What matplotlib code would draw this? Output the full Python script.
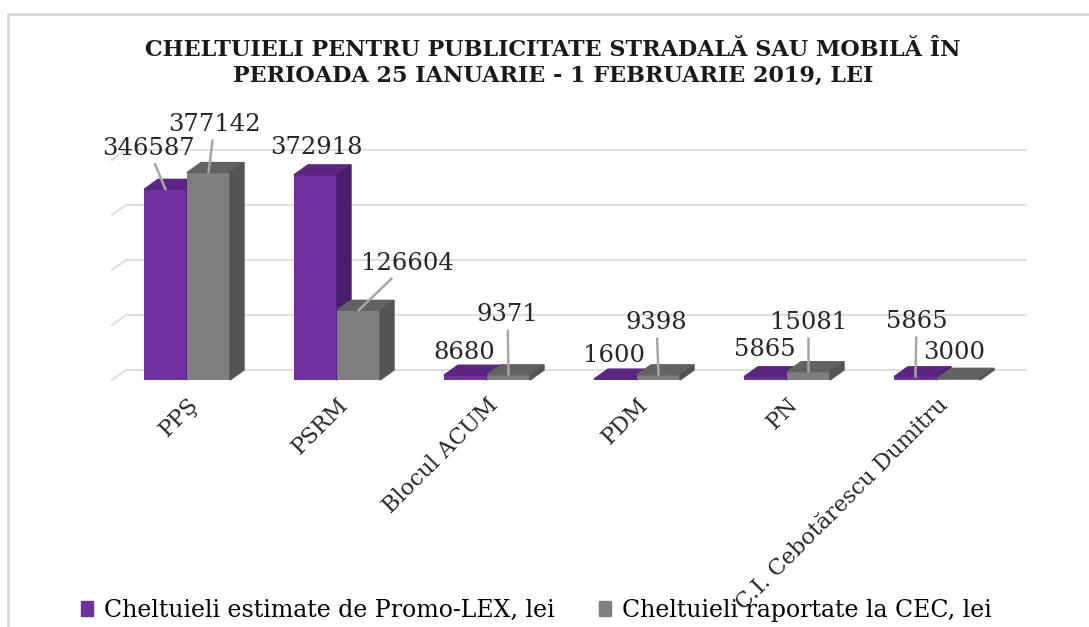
"""Cheltuieli publicitate stradala / mobila, 25 ian - 1 feb 2019 (pseudo-3D clustered bars)."""

import matplotlib
matplotlib.use("Agg")
import matplotlib.pyplot as plt
from matplotlib.patches import Polygon, Rectangle

categories = ["PPŞ", "PSRM", "Blocul ACUM", "PDM", "PN", "C.I. Cebotărescu Dumitru"]
estimate_lei = [346587, 372918, 8680, 1600, 5865, 5865]     # Promo-LEX estimate
reported_lei = [377142, 126604, 9371, 9398, 15081, 3000]    # reported to CEC
series_names = ["Cheltuieli estimate de Promo-LEX, lei", "Cheltuieli raportate la CEC, lei"]
grid_levels = [0, 100000, 200000, 300000, 400000]

# label placement (offset pixels from front-top centre of the bar) + leader line on/off
est_offsets = [(-17, 41), (1, 27), (-1, 23), (-2, 24), (-1, 27), (1, 55)]
est_leader = [True, False, False, False, False, True]
rep_offsets = [(6, 48), (49, 47), (-1, 60), (-2, 52), (0, 49), (-4, 26)]
rep_leader = [True, True, True, True, True, False]

W, H = 1089, 627
SERIF = "DejaVu Serif"
fig = plt.figure(figsize=(W / 100, H / 100), dpi=100)

# light frame (chart box cut by the screenshot)
fig.patches.append(Rectangle((8 / W, -0.1), 1.2, 1 - 14 / H + 0.1, transform=fig.transFigure,
                             fill=False, ec="#d9d9d9", lw=2))

ax_px = (112, 380, 900, 231)  # left, bottom(from top), width, height
ax = fig.add_axes([ax_px[0] / W, (H - ax_px[1]) / H, ax_px[2] / W, ax_px[3] / H])
ax.set_xlim(-0.5, len(categories) - 0.5)
ax.set_ylim(0, 420000)
for s in ax.spines.values():
    s.set_visible(False)
ax.set_yticks([])

# depth of the 3D effect, pixels -> data units
xspan = len(categories)
DX = 14 * xspan / ax_px[2]
DY = 10 * 420000 / ax_px[3]

# back wall gridlines + left stubs
for g in grid_levels:
    ax.plot([-0.5 + DX, len(categories) - 0.5 + DX], [g + DY, g + DY], color="#dedede", lw=1.5,
            zorder=0, clip_on=False)
    ax.plot([-0.5, -0.5 + DX], [g, g + DY], color="#dedede", lw=1.5, zorder=0, clip_on=False)

bw = 43 * xspan / ax_px[2]
colors = [("#7030a0", "#5a2682", "#4a1d6b"), ("#7f7f7f", "#626262", "#545454")]


def bar3d(x0, v, cols, z):
    front, top, side = cols
    ax.bar(x0, v, width=bw, align="edge", color=front, zorder=z, clip_on=False)
    ax.add_patch(Polygon([(x0, v), (x0 + bw, v), (x0 + bw + DX, v + DY), (x0 + DX, v + DY)],
                         closed=True, color=top, zorder=z, clip_on=False))
    ax.add_patch(Polygon([(x0 + bw, 0), (x0 + bw + DX, DY), (x0 + bw + DX, v + DY), (x0 + bw, v)],
                         closed=True, color=side, zorder=z, clip_on=False))
    return (x0 + bw / 2, v)


for i in range(len(categories)):
    series = [(estimate_lei, est_offsets, est_leader), (reported_lei, rep_offsets, rep_leader)]
    for k, (vals, offs, lead) in enumerate(series):
        x0 = i - bw if k == 0 else i
        anchor = bar3d(x0, vals[i], colors[k], 2 + k)
        arrow = dict(arrowstyle="-", color="#a6a6a6", lw=1.8, shrinkA=1, shrinkB=0) if lead[i] else None
        ax.annotate(f"{vals[i]}", xy=anchor, xytext=offs[i], textcoords="offset pixels",
                    ha="center", va="center", fontsize=17.5, family=SERIF, color="#262626",
                    arrowprops=arrow, zorder=5)

ax.set_xticks(range(len(categories)))
ax.set_xticklabels(categories, rotation=45, ha="right", rotation_mode="anchor",
                   fontsize=16, family=SERIF, color="#262626")
ax.tick_params(axis="x", length=0, pad=10)

fig.text(553 / W, 1 - 50 / H, "CHELTUIELI PENTRU PUBLICITATE STRADALĂ SAU MOBILĂ ÎN",
         ha="center", va="center", fontsize=16, fontweight="bold", family=SERIF, color="#1a1a1a")
fig.text(553 / W, 1 - 76 / H, "PERIOADA 25 IANUARIE - 1 FEBRUARIE 2019, LEI",
         ha="center", va="center", fontsize=16, fontweight="bold", family=SERIF, color="#1a1a1a")

handles = [Rectangle((0, 0), 1, 1, color=c[0]) for c in colors]
fig.legend(handles, series_names, loc="center left", bbox_to_anchor=(60 / W, 1 - 610 / H),
           ncol=2, frameon=False, handlelength=0.5, handleheight=0.6, handletextpad=0.45,
           columnspacing=1.9, prop={"family": SERIF, "size": 17})

fig.savefig("out.png", dpi=100)
